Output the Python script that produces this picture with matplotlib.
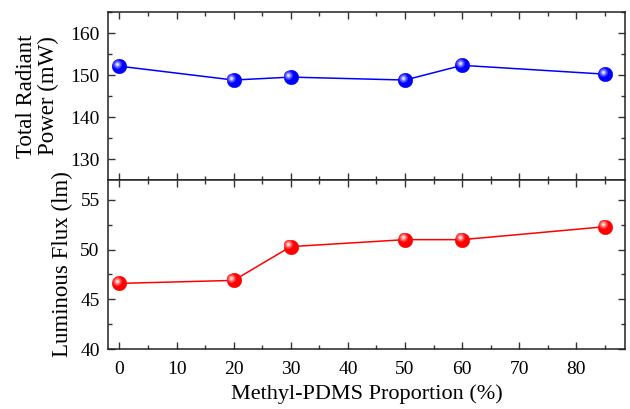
import matplotlib
matplotlib.use("Agg")
import matplotlib.pyplot as plt
import matplotlib.transforms as mtrans
import numpy as np
from matplotlib.ticker import MultipleLocator

plt.rcParams['font.family'] = ['Liberation Serif', 'DejaVu Serif']
plt.rcParams['mathtext.fontset'] = 'stix'

proportion = [0, 20, 30, 50, 60, 85]
radiant_power = [152.1, 148.8, 149.5, 148.8, 152.3, 150.2]
luminous_flux = [46.6, 46.9, 50.3, 51.0, 51.0, 52.3]

fig = plt.figure(figsize=(6.30, 4.09), dpi=100)
ax1 = fig.add_axes([108/630, 1-180/409, (625-108)/630, 168/409])
ax2 = fig.add_axes([108/630, 1-349/409, (625-108)/630, 169/409], sharex=ax1)

def sphere_plot(ax, x, y, color):
    ax.plot(x, y, '-', color=color, lw=1.1, zorder=2)
    ax.plot(x, y, 'o', color=color, ms=10.5, mec=color, mew=0.3, zorder=3)
    c = np.array(matplotlib.colors.to_rgb(color))
    levels = [(6.5, 0.2), (4.8, 0.4), (3.2, 0.65), (1.8, 0.9)]
    for ms, a in levels:
        tr = mtrans.offset_copy(ax.transData, fig=fig, x=-1.8, y=1.8, units='points')
        col = c * (1 - a) + np.array([1, 1, 1]) * a
        ax.plot(x, y, 'o', color=col, ms=ms, mew=0, transform=tr, zorder=4)

sphere_plot(ax1, proportion, radiant_power, '#0000ff')
sphere_plot(ax2, proportion, luminous_flux, '#ff0000')

ax1.set_ylim(125, 165)
ax1.yaxis.set_major_locator(MultipleLocator(10))
ax1.yaxis.set_minor_locator(MultipleLocator(5))
ax2.set_ylim(40, 57)
ax2.yaxis.set_major_locator(MultipleLocator(5))
ax2.yaxis.set_minor_locator(MultipleLocator(2.5))
ax2.set_xlim(-2, 88.5)
ax2.xaxis.set_major_locator(MultipleLocator(10))
ax2.xaxis.set_minor_locator(MultipleLocator(5))

for ax in (ax1, ax2):
    ax.tick_params(which='both', direction='in', top=True, right=True, labelsize=14, width=1, color='#333333')
    ax.tick_params(which='major', length=5)
    ax.tick_params(which='minor', length=3)
    ax.tick_params(axis='y', pad=6)
    ax.tick_params(axis='x', pad=9)
    for s in ax.spines.values():
        s.set_linewidth(1.1)
        s.set_color('#222222')
plt.setp(ax1.get_xticklabels(), visible=False)

ax1.set_ylabel('Total Radiant\nPower (mW)', fontsize=16.5, linespacing=1.05)
ax2.set_ylabel('Luminous Flux (lm)', fontsize=16.5)
ax2.set_xlabel('Methyl-PDMS Proportion (%)', fontsize=16, labelpad=4)
ax1.yaxis.set_label_coords(-0.095, 0.5)
ax2.yaxis.set_label_coords(-0.068, 0.5)

fig.savefig('out.png', dpi=100)
